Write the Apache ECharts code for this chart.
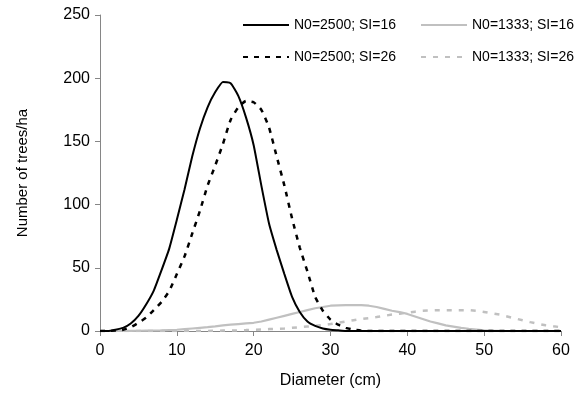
<!DOCTYPE html>
<html>
<head>
<meta charset="utf-8">
<script src="https://cdn.jsdelivr.net/npm/echarts@6/dist/echarts.min.js"></script>
<style>html,body{margin:0;padding:0;background:#fff;}#c{width:581px;height:396px;}</style>
</head>
<body>
<div id="c"></div>
<script>
// Diameter classes (cm)
var diameters = [];
for (var d = 0; d <= 60; d++) diameters.push(d);

var seriesNames = ['N0=2500; SI=16', 'N0=2500; SI=26', 'N0=1333; SI=16', 'N0=1333; SI=26'];

// N0=2500; SI=16
var n2500si16 = [0,0,1,2.5,6,12,21,32,48,65,88,112,138,160,177,189,197,196,186,169,147,115,85,64,45,27,15,7.5,4,2,1,0.5,0,0,0,0,0,0,0,0,0,0,0,0,0,0,0,0,0,0,0,0,0,0,0,0,0,0,0,0,0];
// N0=2500; SI=26
var n2500si26 = [0,0,0.3,1,3,6.5,10.5,16.5,23,31.5,45,59,77,95,115,131,148,167,177,182,181,175,161,138,115,89,66,47,27,16,9,5,2.5,1,0.3,0,0,0,0,0,0,0,0,0,0,0,0,0,0,0,0,0,0,0,0,0,0,0,0,0,0];
// N0=1333; SI=16
var n1333si16 = [0,0,0,0,0.1,0.2,0.3,0.4,0.5,0.8,1,1.5,2,2.5,3,3.7,4.5,5,5.5,6,6.5,7.5,9,10.5,12,13.5,15,16.5,18,19,20,20.3,20.5,20.5,20.5,20,19,17.5,16,15,13.5,11.5,9.5,7.5,6,4.5,3.5,2.5,1.8,1.2,0.6,0.3,0.1,0,0,0,0,0,0,0,0];
// N0=1333; SI=26
var n1333si26 = [0,0,0,0,0,0,0,0,0,0,0,0,0,0,0,0.2,0.3,0.4,0.5,0.7,1,1.2,1.5,1.7,2,2.5,3,3.5,4,4.7,5.5,6.5,7.5,8.5,9.5,10.2,11,12,13,13.7,14.5,15.3,16,16.3,16.5,16.5,16.5,16.5,16.5,16,15,14,13,11.5,10,8.5,7,5.7,4.5,3.7,3];

var xTicks = [0, 10, 20, 30, 40, 50, 60];
var yTicks = [0, 50, 100, 150, 200, 250];

function pairs(vals) {
  return diameters.map(function (d, i) { return [d, vals[i]]; });
}

var FONT = 'Liberation Sans, Arial, sans-serif';
var chart = echarts.init(document.getElementById('c'), null, {renderer: 'canvas'});
var axisGray = '#868686';

var legendCommon = {
  orient: 'vertical', top: 18,
  itemWidth: 46, itemHeight: 14, itemGap: 18,
  itemStyle: {opacity: 0},
  textStyle: {fontFamily: FONT, fontSize: 14, color: '#000'},
  padding: 0
};

chart.setOption({
  animation: false,
  backgroundColor: '#ffffff',
  grid: {left: 100, right: 20, top: 15, bottom: 65, containLabel: false},
  legend: [
    Object.assign({}, legendCommon, {data: [seriesNames[0], seriesNames[1]], left: 242}),
    Object.assign({}, legendCommon, {data: [seriesNames[2], seriesNames[3]], left: 420})
  ],
  xAxis: {
    type: 'value', min: xTicks[0], max: xTicks[xTicks.length - 1], interval: 10,
    name: 'Diameter (cm)', nameLocation: 'middle', nameGap: 42,
    nameTextStyle: {fontFamily: FONT, fontSize: 16, color: '#000'},
    axisLine: {show: true, lineStyle: {color: axisGray, width: 1}},
    axisTick: {show: true, inside: false, length: 5, lineStyle: {color: axisGray}},
    axisLabel: {fontFamily: FONT, fontSize: 16, color: '#000', margin: 12},
    splitLine: {show: false}
  },
  yAxis: {
    type: 'value', min: yTicks[0], max: yTicks[yTicks.length - 1], interval: 50,
    name: 'Number of trees/ha', nameLocation: 'middle', nameGap: 70, nameRotate: 90,
    nameTextStyle: {fontFamily: FONT, fontSize: 15, color: '#000'},
    axisLine: {show: true, lineStyle: {color: axisGray, width: 1}},
    axisTick: {show: true, inside: false, length: 5, lineStyle: {color: axisGray}},
    axisLabel: {fontFamily: FONT, fontSize: 16, color: '#000', margin: 10},
    splitLine: {show: false}
  },
  series: [
    {
      name: seriesNames[2], type: 'line', data: pairs(n1333si16), symbol: 'none', showSymbol: false, z: 2,
      lineStyle: {color: '#c0c0c0', width: 2.2, type: 'solid'}, itemStyle: {color: '#c0c0c0'}
    },
    {
      name: seriesNames[3], type: 'line', data: pairs(n1333si26), symbol: 'none', showSymbol: false, z: 2,
      lineStyle: {color: '#c0c0c0', width: 2.5, type: [5, 7]}, itemStyle: {color: '#c0c0c0'}
    },
    {
      name: seriesNames[0], type: 'line', data: pairs(n2500si16), symbol: 'none', showSymbol: false, smooth: 0.15, z: 3,
      lineStyle: {color: '#000000', width: 2, type: 'solid'}, itemStyle: {color: '#000000'}
    },
    {
      name: seriesNames[1], type: 'line', data: pairs(n2500si26), symbol: 'none', showSymbol: false, smooth: 0.15, z: 3,
      lineStyle: {color: '#000000', width: 2.5, type: [5, 6]}, itemStyle: {color: '#000000'}
    }
  ]
});
</script>
</body>
</html>
